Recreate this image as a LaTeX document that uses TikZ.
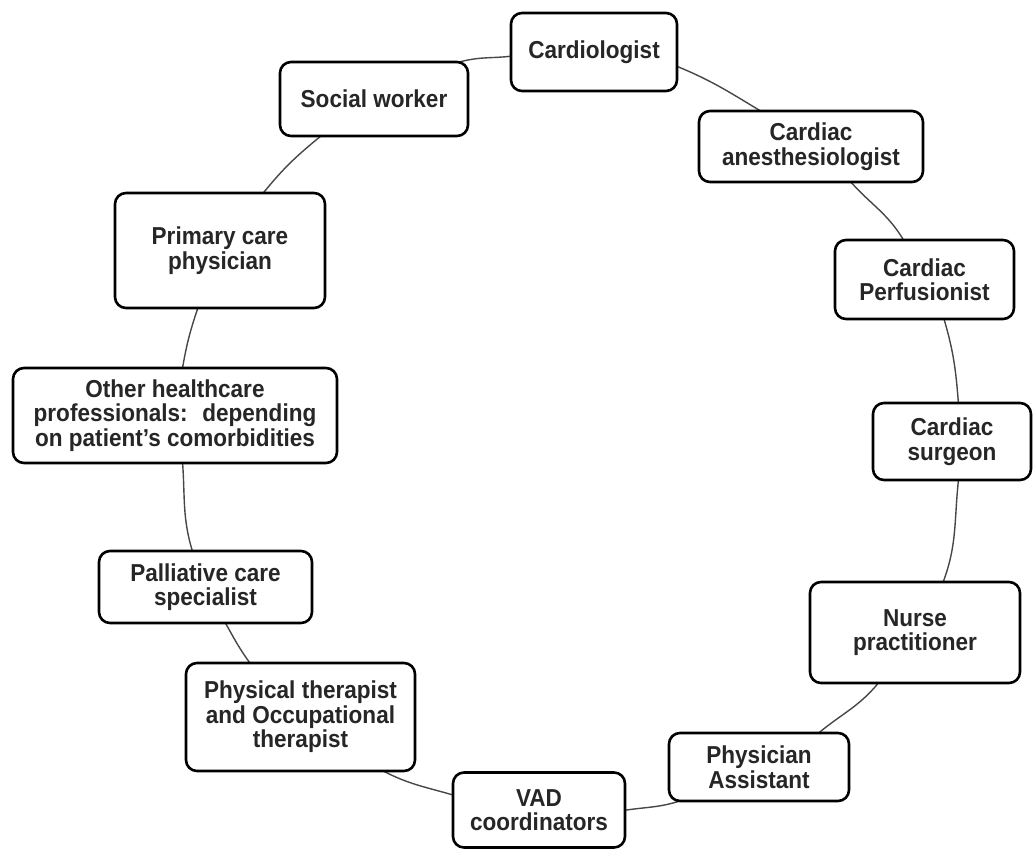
\documentclass[tikz,border=0pt]{standalone}
\usepackage{fontspec}
\setmainfont{Liberation Sans}[FakeStretch=0.92]
\usetikzlibrary{backgrounds}
\begin{document}
\begin{tikzpicture}[x=1pt,y=-1pt,
  box/.style={draw=black, line width=2.6pt, rounded corners=11pt, fill=white,
    align=center, inner sep=0pt,
    font=\fontsize{24.5}{24.5}\selectfont\bfseries, text=black!85},
  link/.style={draw=black!72, line width=1.4pt, shorten <=-5pt, shorten >=-5pt}]
\useasboundingbox (0,0) rectangle (1034,849);
\node[box, minimum width=166pt, minimum height=78pt]  (card)  at (594,52)    {Cardiologist};
\node[box, minimum width=224pt, minimum height=71pt]  (anes)  at (811,146.5) {Cardiac\\anesthesiologist};
\node[box, minimum width=179pt, minimum height=79pt]  (perf)  at (924.5,279.5) {Cardiac\\Perfusionist};
\node[box, minimum width=158pt, minimum height=77pt]  (surg)  at (952,441.5) {Cardiac\\surgeon};
\node[box, minimum width=210pt, minimum height=101pt] (nurse) at (915,632.5) {Nurse\\practitioner};
\node[box, minimum width=180pt, minimum height=68pt]  (pa)    at (759,767)   {Physician\\Assistant};
\node[box, minimum width=172pt, minimum height=75pt]  (vad)   at (539,810)   {VAD\\coordinators};
\node[box, minimum width=229pt, minimum height=108pt] (phys)  at (300.5,717) {Physical therapist\\and Occupational\\therapist};
\node[box, minimum width=213pt, minimum height=72pt]  (pall)  at (205.5,587) {Palliative care\\specialist};
\node[box, minimum width=324pt, minimum height=95pt]  (other) at (175,415.5) {Other healthcare\\professionals:~ depending\\on patient's comorbidities};
\node[box, minimum width=210pt, minimum height=115pt] (prim)  at (220,250.5) {Primary care\\physician};
\node[box, minimum width=188pt, minimum height=74pt]  (sw)    at (374,99)    {Social worker};
\begin{scope}[on background layer]
\draw[link] (card.-10.9)  to[out=-22,   in=148.9]  (anes.145.9);
\draw[link] (anes.-42.3)  to[out=-48.9, in=119.5]  (perf.118.6);
\draw[link] (perf.-64.9)  to[out=-73.3, in=94.3]   (surg.81.1);
\draw[link] (surg.-81.1)  to[out=-96.8, in=68.6]   (nurse.61);
\draw[link] (nurse.-126.2) to[out=-128.3, in=40.4] (pa.30.4);
\draw[link] (pa.-157.8)   to[out=-162.5, in=9.5]   (vad.0.7);
\draw[link] (vad.170.1)   to[out=163.2, in=-27.9]  (phys.-33.2);
\draw[link] (phys.133.1)  to[out=126.4, in=-60.6]  (pall.-61.6);
\draw[link] (pall.110.6)  to[out=107.7, in=-85.5]  (other.-81.6);
\draw[link] (other.81.6)  to[out=80.3,  in=-108.9] (prim.-111.8);
\draw[link] (prim.53.2)   to[out=51.2,  in=-140.8] (sw.-145.6);
\draw[link] (sw.23.7)     to[out=14.9,  in=-172.3] (card.183.4);
\end{scope}
\end{tikzpicture}
\end{document}
